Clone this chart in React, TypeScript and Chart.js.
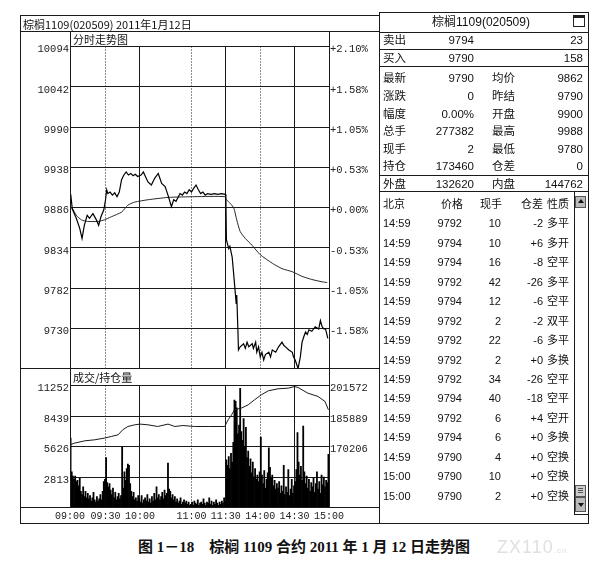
import React, { useEffect, useRef } from 'react';
import { Chart, registerables } from 'chart.js';

Chart.register(...registerables);

// ---------- axis definitions ----------
const timeTickMinutes = [0, 31, 61, 106, 136, 166, 196, 226];
const timeTickLabels = ['09:00', '09:30', '10:00', '11:00', '11:30', '14:00', '14:30', '15:00'];
const dottedTickMinutes = [31, 106, 166];

const priceTicks = [9678, 9730, 9782, 9834, 9886, 9938, 9990, 10042, 10094];
const priceTickLabels = ['', '9730', '9782', '9834', '9886', '9938', '9990', '10042', '10094'];
const pctTickLabels = ['', '-1.58%', '-1.05%', '-0.53%', '+0.00%', '+0.53%', '+1.05%', '+1.58%', '+2.10%'];

const volTicks = [0, 2813, 5626, 8439, 11252];
const volTickLabels = ['', '2813', '5626', '8439', '11252'];
const oiTicks = [138840, 154523, 170206, 185889, 201572];
const oiTickLabels = ['', '', '170206', '185889', '201572'];

// ---------- price (minute index from 09:00 incl. opening auction) ----------
const priceMinutes = [
  0, 1, 2, 5.5, 8.5, 10.5, 12.5, 15, 17, 20, 23, 25, 27, 29.5, 31, 32, 33, 35, 37, 39, 41, 43, 45, 47, 49,
  51, 53, 55, 57, 59, 62, 64, 68, 71, 74, 77, 80, 83, 85.5, 88.5, 90.5, 92.5, 96, 98, 100, 102, 104, 106,
  108, 110, 112, 114, 116, 118, 120, 123, 126, 129, 132, 135.5,
  136, 136.5, 138.5, 139.5, 141.5, 143, 144.5, 145, 145.5, 146.5, 147, 148.5, 151.5, 153, 154.5, 156, 159,
  160, 162, 163, 164.5, 166, 167.5, 169, 170.5, 173.5, 175, 176.5, 179.5, 182, 185, 186.5, 188, 191, 194,
  195, 196.5, 199, 201, 202.5, 204, 205.5, 207, 208.5, 211, 214, 217, 218.5, 220, 221.5, 223, 225,
];
const priceValues = [
  9888, 9898, 9884, 9872, 9859, 9846, 9863, 9876, 9872, 9878, 9870, 9863, 9874, 9883, 9896, 9909, 9904, 9906,
  9902, 9905, 9900, 9906, 9922, 9928, 9932, 9928, 9930, 9927, 9929, 9926, 9928, 9932, 9919, 9915, 9924, 9930,
  9917, 9913, 9902, 9887, 9896, 9894, 9904, 9902, 9906, 9904, 9909, 9906, 9911, 9915, 9909, 9904, 9906, 9902,
  9904, 9903, 9904, 9903, 9904, 9903,
  9900, 9844, 9833, 9836, 9822, 9797, 9771, 9762, 9773, 9728, 9702, 9706, 9710, 9704, 9712, 9706, 9710, 9704,
  9712, 9699, 9706, 9693, 9699, 9689, 9696, 9699, 9693, 9702, 9699, 9706, 9712, 9708, 9706, 9702, 9699, 9693,
  9689, 9678, 9693, 9712, 9719, 9725, 9722, 9728, 9726, 9732, 9729, 9740, 9732, 9729, 9729, 9717,
];

const avgMinutes = [
  0, 2, 5.5, 10, 15.5, 24.5, 30, 36, 45, 50.5, 56.5, 68, 85.5, 109, 135, 136.5, 140, 143, 145.5, 148.5, 153,
  159, 166, 176.5, 185, 194, 202.5, 211, 220, 224.5,
];
const avgValues = [
  9886, 9885, 9876, 9870, 9868, 9868, 9870, 9874, 9880, 9889, 9893, 9896, 9899, 9900, 9900, 9896, 9891, 9885,
  9870, 9855, 9846, 9837, 9825, 9814, 9807, 9803, 9797, 9793, 9790, 9789,
];

// ---------- volume (one bar per minute) and open interest ----------
const volumeValues = [
  6400, 3300, 2900, 2600, 2900, 2400, 2500, 2000, 2700, 1500, 1200, 1900, 1000, 1500, 900,
  1300, 800, 1100, 600, 900, 1400, 700, 500, 1000, 600, 800, 1200, 700, 1500, 2400,
  2600, 4600, 2300, 1900, 2200, 1600, 1200, 1800, 900, 1400, 700, 1000, 1300, 800, 1100,
  5600, 1800, 3300, 2500, 3600, 4000, 3900, 2200, 1500, 1000, 1400, 700, 900, 600, 1100,
  800, 500, 1100, 400, 700, 900, 600, 1200, 500, 800, 400, 1000, 600, 1300, 700,
  1900, 900, 1200, 700, 1000, 1400, 800, 1600, 1100, 1300, 4100, 1700, 1500, 900, 1200,
  700, 1000, 500, 800, 400, 600, 900, 300, 500, 700, 400, 600, 300, 500, 200,
  300, 500, 200, 600, 400, 300, 700, 200, 400, 500, 300, 800, 400, 200, 500,
  400, 900, 300, 600, 200, 500, 300, 700, 400, 200, 500, 300, 600, 400, 900, 500,
  4400, 3900, 4700, 3600, 5000, 4200, 6000, 9900, 9800, 9200, 6800, 7600, 11000, 7000, 6200,
  8200, 5600, 7400, 4600, 5200, 3800, 4500, 3200, 4200, 2800, 3600, 2600, 3000, 2400, 3300,
  6500, 3000, 2200, 3400, 1800, 2600, 3200, 5500, 3700, 2700, 3000, 2000, 2500, 1700, 2200,
  1800, 2400, 1300, 2000, 1500, 3900, 1200, 1900, 1400, 3500, 1100, 1700, 2600, 1300, 2000,
  2400, 3500, 6900, 4200, 3000, 3800, 2500, 7500, 3300, 2200, 2900, 1800, 2600, 1500, 2300,
  1900, 2700, 1400, 2200, 3300, 1700, 2400, 1300, 3000, 2100, 2800, 1900, 2500, 2300, 4900,
];

const oiMinutes = [
  0, 4, 13, 21.5, 30, 36, 42, 46, 50.5, 56.5, 61, 68, 76.5, 85.5, 91.5, 98.5, 108.5, 120.5, 135, 138, 141,
  143.5, 149.5, 155.5, 161, 167, 173, 181.5, 190.5, 196, 199, 207.5, 216.5, 222.5, 225.5,
];
const oiValues = [
  171080, 171954, 173137, 173650, 174524, 175348, 176222, 178793, 180490, 181364, 181724, 181364, 180490,
  181724, 180490, 181000, 180490, 180490, 180490, 183935, 186506, 189077, 189934, 191648, 194219, 196790,
  198847, 199875, 200218, 201058, 200544, 197664, 195915, 193345, 189077,
];

// ---------- quote panel ----------
const quoteTitle = '棕榈1109(020509)';
const chartTitle = '棕榈1109(020509) 2011年1月12日';
const askRow = ['卖出', '9794', '23'];
const bidRow = ['买入', '9790', '158'];
const statLabels1 = ['最新', '涨跌', '幅度', '总手', '现手', '持仓', '外盘'];
const statValues1 = ['9790', '0', '0.00%', '277382', '2', '173460', '132620'];
const statLabels2 = ['均价', '昨结', '开盘', '最高', '最低', '仓差', '内盘'];
const statValues2 = ['9862', '9790', '9900', '9988', '9780', '0', '144762'];

const tradeHeader = ['北京', '价格', '现手', '仓差', '性质'];
const tradeTimes = ['14:59', '14:59', '14:59', '14:59', '14:59', '14:59', '14:59', '14:59', '14:59', '14:59', '14:59', '14:59', '14:59', '15:00', '15:00'];
const tradePrices = ['9792', '9794', '9794', '9792', '9794', '9792', '9792', '9792', '9792', '9794', '9792', '9794', '9790', '9790', '9790'];
const tradeLots = ['10', '10', '16', '42', '12', '2', '22', '2', '34', '40', '6', '6', '4', '10', '2'];
const tradeOiChg = ['-2', '+6', '-8', '-26', '-6', '-2', '-6', '+0', '-26', '-18', '+4', '+0', '+0', '+0', '+0'];
const tradeKinds = ['多平', '多开', '空平', '多平', '空平', '双平', '多平', '多换', '空平', '空平', '空开', '多换', '空换', '空换', '空换'];

const captionText = '图 1－18    棕榈 1109 合约 2011 年 1 月 12 日走势图';

// ---------- styling ----------
const SANS = "'Liberation Sans', 'Noto Sans CJK SC', sans-serif";
const CJK = "'Noto Sans CJK SC', 'Liberation Sans', sans-serif";
const MONO = "'Liberation Mono', 'DejaVu Sans Mono', monospace";
const LINE = '#1a1a1a';

type TxtProps = {
  x: number; y: number; children: React.ReactNode; align?: 'left' | 'right' | 'center';
  size?: number; font?: string; weight?: number | string; color?: string; spacing?: number;
};
const Txt = ({ x, y, children, align = 'left', size = 11, font = SANS, weight = 400, color = '#111', spacing = 0 }: TxtProps) => {
  const tx = align === 'left' ? '0' : align === 'right' ? '-100%' : '-50%';
  return (
    <div style={{
      position: 'absolute', left: x, top: y, transform: `translate(${tx}, -50%)`, whiteSpace: 'pre',
      fontSize: size, fontFamily: font, fontWeight: weight as any, color, lineHeight: 1, letterSpacing: spacing,
    }}>{children}</div>
  );
};
const H = ({ x1, x2, y, w = 1, c = LINE }: { x1: number; x2: number; y: number; w?: number; c?: string }) => (
  <div style={{ position: 'absolute', left: x1, top: y, width: x2 - x1, height: w, background: c }} />
);
const V = ({ x, y1, y2, w = 1, c = LINE }: { x: number; y1: number; y2: number; w?: number; c?: string }) => (
  <div style={{ position: 'absolute', left: x, top: y1, width: w, height: y2 - y1, background: c }} />
);

const setTicks = (values: number[]) => (scale: any) => {
  scale.ticks = values.map((v) => ({ value: v }));
};
const labelFrom = (values: number[], labels: string[]) => (v: any) => {
  const i = values.indexOf(Number(v));
  return i >= 0 ? labels[i] : '';
};

const tickFont = { family: MONO, size: 10.5 };

export default function App() {
  const priceRef = useRef<HTMLCanvasElement>(null);
  const volRef = useRef<HTMLCanvasElement>(null);

  useEffect(() => {
    const dashFor = (ctx: any) => (dottedTickMinutes.includes(ctx?.tick?.value) ? [1, 2] : []);

    const priceChart = new Chart(priceRef.current as HTMLCanvasElement, {
      type: 'line',
      data: {
        datasets: [
          {
            data: priceMinutes.map((m, i) => ({ x: m, y: priceValues[i] })),
            borderColor: '#000', borderWidth: 1.2, pointRadius: 0, tension: 0, yAxisID: 'y',
          },
          {
            data: avgMinutes.map((m, i) => ({ x: m, y: avgValues[i] })),
            borderColor: '#2a2a2a', borderWidth: 1, pointRadius: 0, tension: 0.2, yAxisID: 'y',
          },
        ],
      },
      options: {
        responsive: false, animation: false, devicePixelRatio: 1, events: [],
        layout: { padding: { top: 14.5, left: 0, right: 0, bottom: 0 } },
        plugins: { legend: { display: false }, tooltip: { enabled: false } },
        scales: {
          x: {
            type: 'linear', min: 0, max: 226,
            afterBuildTicks: setTicks(timeTickMinutes),
            afterFit: (s: any) => { s.height = 8.5; },
            ticks: { display: false },
            grid: { color: LINE, lineWidth: 1, drawTicks: false },
            border: { display: false, dash: dashFor },
          },
          y: {
            position: 'left', min: 9678, max: 10094,
            afterBuildTicks: setTicks(priceTicks),
            afterFit: (s: any) => { s.width = 50; },
            grid: { color: LINE, lineWidth: 1, drawTicks: false },
            border: { display: false },
            ticks: { font: tickFont, color: '#222', padding: 1, labelOffset: 3, callback: labelFrom(priceTicks, priceTickLabels) },
          },
          yr: {
            position: 'right', min: 9678, max: 10094,
            afterBuildTicks: setTicks(priceTicks),
            afterFit: (s: any) => { s.width = 50; },
            grid: { drawOnChartArea: false, drawTicks: false },
            border: { display: false },
            ticks: { font: tickFont, color: '#222', padding: 1, labelOffset: 3, callback: labelFrom(priceTicks, pctTickLabels) },
          },
        },
      } as any,
    });

    const volChart = new Chart(volRef.current as HTMLCanvasElement, {
      type: 'bar',
      data: {
        datasets: [
          {
            type: 'line',
            data: oiMinutes.map((m, i) => ({ x: m, y: oiValues[i] })),
            borderColor: '#1a1a1a', borderWidth: 1, pointRadius: 0, tension: 0, yAxisID: 'y2', order: 0,
          } as any,
          {
            type: 'bar',
            data: volumeValues.map((v, i) => ({ x: i + 0.5, y: v })),
            backgroundColor: '#000', barPercentage: 1, categoryPercentage: 1, yAxisID: 'y', order: 1,
          } as any,
        ],
      },
      options: {
        responsive: false, animation: false, devicePixelRatio: 1, events: [],
        layout: { padding: { top: 16.5, left: 0, right: 0, bottom: 0 } },
        plugins: { legend: { display: false }, tooltip: { enabled: false } },
        scales: {
          x: {
            type: 'linear', min: 0, max: 226, offset: false,
            afterBuildTicks: setTicks(timeTickMinutes),
            afterFit: (s: any) => { s.height = 15.5; },
            ticks: {
              font: { family: MONO, size: 10 }, color: '#222', padding: 3, autoSkip: false, maxRotation: 0,
              callback: labelFrom(timeTickMinutes, timeTickLabels),
            },
            grid: { color: LINE, lineWidth: 1, drawTicks: false, offset: false },
            border: { display: false, dash: dashFor },
          },
          y: {
            position: 'left', min: 0, max: 11252,
            afterBuildTicks: setTicks(volTicks),
            afterFit: (s: any) => { s.width = 50; },
            grid: { color: LINE, lineWidth: 1, drawTicks: false },
            border: { display: false },
            ticks: { font: tickFont, color: '#222', padding: 1, labelOffset: 3, callback: labelFrom(volTicks, volTickLabels) },
          },
          y2: {
            position: 'right', min: 138840, max: 201572,
            afterBuildTicks: setTicks(oiTicks),
            afterFit: (s: any) => { s.width = 50; },
            grid: { drawOnChartArea: false, drawTicks: false },
            border: { display: false },
            ticks: { font: tickFont, color: '#222', padding: 1, labelOffset: 3, callback: labelFrom(oiTicks, oiTickLabels) },
          },
        },
      } as any,
    });

    return () => {
      priceChart.destroy();
      volChart.destroy();
    };
  }, []);

  const statY = (i: number) => 79.3 + i * 17.6;
  const tradeY = (i: number) => 223.3 + i * 19.46;

  return (
    <div style={{ position: 'absolute', left: 0, top: 0, width: 605, height: 570, background: '#fff', overflow: 'hidden' }}>
      <canvas ref={priceRef} width={359} height={345} style={{ position: 'absolute', left: 20, top: 32, display: 'block' }} />
      <canvas ref={volRef} width={359} height={154} style={{ position: 'absolute', left: 20, top: 369, display: 'block' }} />

      {/* left panel frame */}
      <H x1={20} x2={380} y={15} />
      <V x={20} y1={15} y2={524} />
      <H x1={20} x2={589} y={523} />
      <H x1={20} x2={379} y={31} />
      <H x1={20} x2={379} y={368} />
      <H x1={20} x2={379} y={507} />
      <V x={70} y1={31} y2={508} />
      <V x={329} y1={31} y2={508} />
      <Txt x={23} y={23.5} size={11} font={CJK}>{chartTitle}</Txt>
      <Txt x={73} y={39} size={11} font={CJK}>分时走势图</Txt>
      <Txt x={73} y={377} size={11} font={CJK}>成交/持仓量</Txt>

      {/* right panel frame */}
      <V x={379} y1={12} y2={524} />
      <V x={588} y1={12} y2={524} />
      <H x1={379} x2={589} y={12} />
      <H x1={379} x2={589} y={32} />
      <H x1={379} x2={589} y={49} />
      <H x1={379} x2={589} y={66} />
      <H x1={379} x2={589} y={175} />
      <H x1={379} x2={589} y={191} />

      <Txt x={481} y={22} size={12} font={SANS} align="center">{quoteTitle}</Txt>
      <div style={{ position: 'absolute', left: 573, top: 15, width: 10, height: 8, border: '1px solid #222', borderTopWidth: 3, background: '#fff' }} />

      <Txt x={383} y={41} size={11.5}>{askRow[0]}</Txt>
      <Txt x={474} y={41} size={11.5} align="right">{askRow[1]}</Txt>
      <Txt x={583} y={41} size={11.5} align="right">{askRow[2]}</Txt>
      <Txt x={383} y={58.5} size={11.5}>{bidRow[0]}</Txt>
      <Txt x={474} y={58.5} size={11.5} align="right">{bidRow[1]}</Txt>
      <Txt x={583} y={58.5} size={11.5} align="right">{bidRow[2]}</Txt>

      {statLabels1.map((l, i) => (
        <React.Fragment key={'s' + i}>
          <Txt x={383} y={statY(i)} size={11.5}>{l}</Txt>
          <Txt x={474} y={statY(i)} size={11.5} align="right">{statValues1[i]}</Txt>
          <Txt x={492} y={statY(i)} size={11.5}>{statLabels2[i]}</Txt>
          <Txt x={583} y={statY(i)} size={11.5} align="right">{statValues2[i]}</Txt>
        </React.Fragment>
      ))}

      <Txt x={383} y={204} size={11}>{tradeHeader[0]}</Txt>
      <Txt x={463} y={204} size={11} align="right">{tradeHeader[1]}</Txt>
      <Txt x={502} y={204} size={11} align="right">{tradeHeader[2]}</Txt>
      <Txt x={543} y={204} size={11} align="right">{tradeHeader[3]}</Txt>
      <Txt x={547} y={204} size={11}>{tradeHeader[4]}</Txt>
      {tradeTimes.map((t, i) => (
        <React.Fragment key={'t' + i}>
          <Txt x={383} y={tradeY(i)} size={11}>{t}</Txt>
          <Txt x={462} y={tradeY(i)} size={11} align="right">{tradePrices[i]}</Txt>
          <Txt x={501} y={tradeY(i)} size={11} align="right">{tradeLots[i]}</Txt>
          <Txt x={543} y={tradeY(i)} size={11} align="right">{tradeOiChg[i]}</Txt>
          <Txt x={547} y={tradeY(i)} size={11}>{tradeKinds[i]}</Txt>
        </React.Fragment>
      ))}

      {/* scrollbar */}
      <V x={574} y1={191} y2={514} />
      <H x1={574} x2={588} y={514} />
      <div style={{ position: 'absolute', left: 575, top: 196, width: 11, height: 12, background: '#bbb', border: '1px solid #555', boxSizing: 'border-box' }}>
        <div style={{ position: 'absolute', left: 2, top: 2, width: 0, height: 0, borderLeft: '3px solid transparent', borderRight: '3px solid transparent', borderBottom: '4px solid #111' }} />
      </div>
      <div style={{ position: 'absolute', left: 575, top: 485, width: 11, height: 12, background: '#ccc', border: '1px solid #555', boxSizing: 'border-box' }}>
        <div style={{ position: 'absolute', left: 2, top: 2, width: 5, height: 1, background: '#555' }} />
        <div style={{ position: 'absolute', left: 2, top: 4, width: 5, height: 1, background: '#555' }} />
        <div style={{ position: 'absolute', left: 2, top: 6, width: 5, height: 1, background: '#555' }} />
      </div>
      <div style={{ position: 'absolute', left: 575, top: 497, width: 11, height: 15, background: '#bbb', border: '1px solid #555', boxSizing: 'border-box' }}>
        <div style={{ position: 'absolute', left: 2, top: 5, width: 0, height: 0, borderLeft: '3px solid transparent', borderRight: '3px solid transparent', borderTop: '4px solid #111' }} />
      </div>

      {/* caption */}
      <Txt x={138} y={547} size={15} weight={700} font={"'Liberation Serif', 'Noto Sans CJK SC', serif"}>{captionText}</Txt>
      <Txt x={497} y={547} size={18} font={SANS} color="#e0e0e0" spacing={1}>ZX110<span style={{ fontSize: 8 }}>.cn</span></Txt>
    </div>
  );
}
